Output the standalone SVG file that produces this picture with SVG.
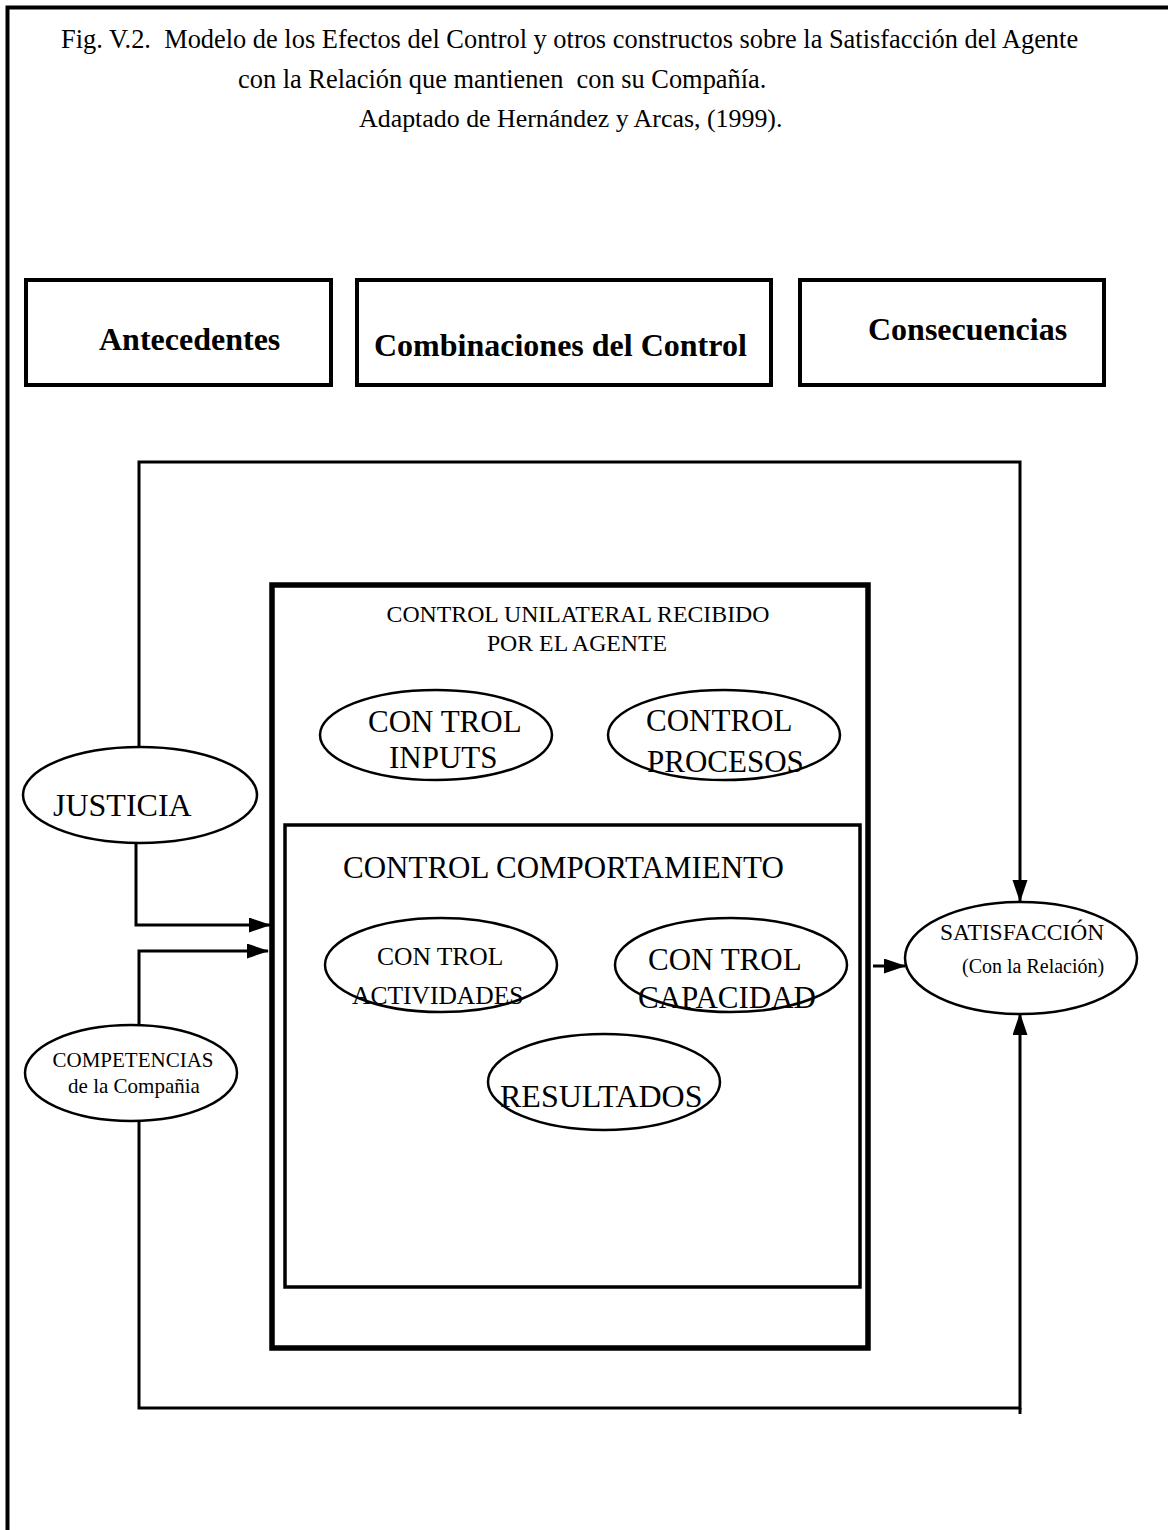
<svg xmlns="http://www.w3.org/2000/svg" width="1168" height="1530" viewBox="0 0 1168 1530">
  <style>
    text { font-family: "Liberation Serif", "Times New Roman", serif; fill: #000; white-space: pre; }
    .title { font-size: 26.4px; }
    .head { font-size: 32px; font-weight: bold; }
    .box { fill: none; stroke: #000; stroke-width: 4; }
    .big { fill: none; stroke: #000; stroke-width: 5.5; }
    .inner { fill: none; stroke: #000; stroke-width: 3.5; }
    .node { fill: #fff; stroke: #000; stroke-width: 2.5; }
    .wire { fill: none; stroke: #000; stroke-width: 3; }
    .mid { text-anchor: middle; }
  </style>
  <defs>
    <marker id="arrow" markerUnits="userSpaceOnUse" markerWidth="22" markerHeight="16" refX="21" refY="7.5" orient="auto">
      <path d="M0,0 L22,7.5 L0,15 z" fill="#000"/>
    </marker>
  </defs>

  <rect width="1168" height="1530" fill="#fff"/>

  <!-- page frame -->
  <path d="M7.5,1530 V7.5 H1168" fill="none" stroke="#000" stroke-width="4"/>

  <!-- caption -->
  <g id="caption">
    <text class="title" x="61" y="48">Fig. V.2.  Modelo de los Efectos del Control y otros constructos sobre la Satisfacción del Agente</text>
    <text class="title" x="238" y="88">con la Relación que mantienen  con su Compañía.</text>
    <text class="title" x="359" y="127" style="font-size:25.9px">Adaptado de Hernández y Arcas, (1999).</text>
  </g>

  <!-- column headers -->
  <g id="hdr-antecedentes">
    <rect class="box" x="26" y="280" width="305" height="105"/>
    <text class="head" x="99" y="350">Antecedentes</text>
  </g>
  <g id="hdr-combinaciones">
    <rect class="box" x="357" y="280" width="414" height="105"/>
    <text class="head" x="374" y="356">Combinaciones del Control</text>
  </g>
  <g id="hdr-consecuencias">
    <rect class="box" x="800" y="280" width="304" height="105"/>
    <text class="head" x="868" y="340">Consecuencias</text>
  </g>

  <!-- connectors -->
  <g id="connectors">
    <path class="wire" d="M139,747 V462 H1020 V901" marker-end="url(#arrow)"/>
    <path class="wire" d="M136,843 V925 H270" marker-end="url(#arrow)"/>
    <path class="wire" d="M139,1025 V951 H268" marker-end="url(#arrow)"/>
    <path class="wire" d="M139,1121 V1408 H1020 V1014" marker-end="url(#arrow)"/>
    <path class="wire" d="M1020,1408 V1414"/>
    <path class="wire" d="M873,966 H905" marker-end="url(#arrow)"/>
  </g>

  <!-- unilateral control container -->
  <g id="control-unilateral">
    <rect class="big" x="272" y="585" width="596" height="763"/>
    <text class="mid" x="578" y="622" style="font-size:23.8px">CONTROL UNILATERAL RECIBIDO</text>
    <text class="mid" x="577" y="651" style="font-size:23.8px">POR EL AGENTE</text>
  </g>

  <g id="control-inputs">
    <ellipse class="node" cx="436" cy="735" rx="116" ry="45"/>
    <text x="368" y="732" style="font-size:31px">CON TROL</text>
    <text x="389" y="768" style="font-size:31px">INPUTS</text>
  </g>

  <g id="control-procesos">
    <ellipse class="node" cx="724" cy="735" rx="116" ry="45"/>
    <text x="646" y="731" style="font-size:31px">CONTROL</text>
    <text x="647" y="772" style="font-size:31px">PROCESOS</text>
  </g>

  <!-- behaviour control container -->
  <g id="control-comportamiento">
    <rect class="inner" x="285" y="825" width="575" height="462"/>
    <text x="343" y="878" style="font-size:31px">CONTROL COMPORTAMIENTO</text>
  </g>

  <g id="control-actividades">
    <ellipse class="node" cx="441" cy="965" rx="116" ry="47"/>
    <text x="377" y="965" style="font-size:25.5px">CON TROL</text>
    <text x="352" y="1004" style="font-size:25.5px">ACTIVIDADES</text>
  </g>

  <g id="control-capacidad">
    <ellipse class="node" cx="731" cy="965" rx="116" ry="47"/>
    <text x="648" y="970" style="font-size:31px">CON TROL</text>
    <text x="638" y="1008" style="font-size:31px">CAPACIDAD</text>
  </g>

  <g id="resultados">
    <ellipse class="node" cx="604" cy="1082" rx="116" ry="48"/>
    <text x="500" y="1107" style="font-size:32px">RESULTADOS</text>
  </g>

  <!-- antecedents -->
  <g id="justicia">
    <ellipse class="node" cx="140" cy="795" rx="117" ry="48"/>
    <text x="53" y="816" style="font-size:32px">JUSTICIA</text>
  </g>

  <g id="competencias">
    <ellipse class="node" cx="131" cy="1073" rx="106" ry="48"/>
    <text class="mid" x="133" y="1067" style="font-size:21px">COMPETENCIAS</text>
    <text class="mid" x="134" y="1093" style="font-size:21px">de la Compañia</text>
  </g>

  <!-- consequence -->
  <g id="satisfaccion">
    <ellipse class="node" cx="1021" cy="958" rx="116" ry="56"/>
    <text x="940" y="940" style="font-size:23.5px">SATISFACCIÓN</text>
    <text x="962" y="973" style="font-size:20px">(Con la Relación)</text>
  </g>
</svg>
